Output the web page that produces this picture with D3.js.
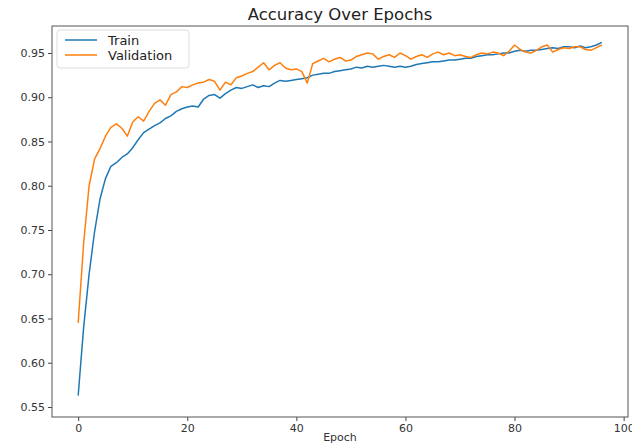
<!DOCTYPE html>
<html><head><meta charset="utf-8">
<script src="https://cdn.jsdelivr.net/npm/d3@7"></script>
<style>body{margin:0;background:#fff}svg{display:block}text{font-family:"DejaVu Sans",sans-serif}</style>
</head><body>
<svg id="c" width="632" height="445"></svg>
<script>
const epochs = d3.range(0, 97);
const trainAcc = [0.563,0.640,0.700,0.748,0.785,0.808,0.822,0.826,0.832,0.836,
0.843,0.852,0.860,0.864,0.868,0.871,0.876,0.879,0.884,0.887,
0.889,0.890,0.889,0.898,0.902,0.903,0.899,0.904,0.908,0.911,
0.910,0.912,0.914,0.911,0.913,0.912,0.916,0.919,0.918,0.919,
0.920,0.921,0.922,0.925,0.926,0.927,0.927,0.929,0.930,0.931,
0.932,0.934,0.933,0.935,0.934,0.935,0.936,0.935,0.934,0.935,
0.934,0.935,0.937,0.938,0.939,0.940,0.940,0.941,0.942,0.942,
0.943,0.944,0.944,0.946,0.947,0.948,0.948,0.949,0.950,0.950,
0.952,0.953,0.952,0.953,0.953,0.954,0.955,0.956,0.955,0.957,
0.957,0.956,0.958,0.956,0.957,0.959,0.962];
const valAcc = [0.645,0.735,0.800,0.830,0.842,0.856,0.866,0.870,0.865,0.856,
0.872,0.878,0.873,0.884,0.893,0.897,0.891,0.903,0.906,0.912,
0.911,0.914,0.916,0.917,0.920,0.918,0.908,0.917,0.914,0.922,
0.924,0.927,0.929,0.934,0.939,0.931,0.936,0.939,0.933,0.931,
0.932,0.929,0.916,0.938,0.941,0.944,0.940,0.943,0.945,0.941,
0.942,0.946,0.948,0.950,0.949,0.943,0.946,0.948,0.945,0.950,
0.947,0.943,0.946,0.948,0.945,0.949,0.951,0.948,0.950,0.947,
0.948,0.946,0.945,0.948,0.950,0.949,0.951,0.950,0.947,0.952,
0.959,0.954,0.951,0.950,0.953,0.957,0.959,0.951,0.954,0.956,
0.955,0.957,0.957,0.954,0.953,0.956,0.959];
const xTicks = [0,20,40,60,80,100];
const yTicks = [0.55,0.60,0.65,0.70,0.75,0.80,0.85,0.90,0.95];
const seriesNames = ["Train","Validation"];
const seriesColors = ["#1f77b4","#ff7f0e"];

const L=52, R=628, T=26, B=417;
const svg = d3.select("#c");
const x = d3.scaleLinear().domain([-4.8,100.8]).range([L,R]);
const y = d3.scaleLinear().domain([0.5387,0.9805]).range([B,T]);

const line = d3.line().x((d,i)=>x(epochs[i])).y(d=>y(d));
[trainAcc,valAcc].forEach((s,k)=>{
  svg.append("path").datum(s).attr("d",line).attr("fill","none")
    .attr("stroke",seriesColors[k]).attr("stroke-width",1.5).attr("stroke-linejoin","round");
});

const xa = svg.append("g").attr("transform",`translate(0,${B})`)
  .call(d3.axisBottom(x).tickValues(xTicks).tickFormat(d3.format("d")).tickSize(4).tickPadding(3));
const ya = svg.append("g").attr("transform",`translate(${L},0)`)
  .call(d3.axisLeft(y).tickValues(yTicks).tickFormat(d3.format(".2f")).tickSize(4).tickPadding(3));
[xa,ya].forEach(a=>{a.select(".domain").remove();a.selectAll("text").attr("font-size",11).attr("fill","#333").style("font-family","DejaVu Sans");a.selectAll("line").attr("stroke","#444");});

svg.append("rect").attr("x",L).attr("y",T).attr("width",R-L).attr("height",B-T)
  .attr("fill","none").attr("stroke","#555").attr("stroke-width",1);

svg.append("text").attr("x",(L+R)/2).attr("y",20).attr("text-anchor","middle")
  .attr("font-size",16.5).attr("fill","#222").text("Accuracy Over Epochs");
svg.append("text").attr("x",(L+R)/2).attr("y",441).attr("text-anchor","middle")
  .attr("font-size",11).attr("fill","#333").text("Epoch");

const lg = svg.append("g");
lg.append("rect").attr("x",57).attr("y",30).attr("width",132).attr("height",38)
  .attr("rx",3).attr("fill","#fff").attr("fill-opacity",0.8).attr("stroke","#ddd");
seriesNames.forEach((n,k)=>{
  const yy = 40 + k*15;
  lg.append("line").attr("x1",65).attr("x2",97).attr("y1",yy).attr("y2",yy)
    .attr("stroke",seriesColors[k]).attr("stroke-width",1.5);
  lg.append("text").attr("x",108).attr("y",yy+4.5).attr("font-size",13).attr("fill","#222").text(n);
});
</script>
</body></html>
